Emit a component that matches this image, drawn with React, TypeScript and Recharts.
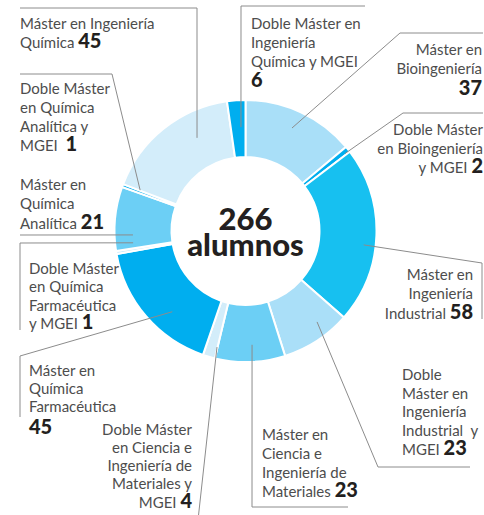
import { PieChart, Pie, Cell, Label } from "recharts";

// programmes, clockwise from 12 o'clock
const programs = [
  "Máster en Bioingeniería",
  "Doble Máster en Bioingeniería y MGEI",
  "Máster en Ingeniería Industrial",
  "Doble Máster en Ingeniería Industrial y MGEI",
  "Máster en Ciencia e Ingeniería de Materiales",
  "Doble Máster en Ciencia e Ingeniería de Materiales y MGEI",
  "Máster en Química Farmacéutica",
  "Doble Máster en Química Farmacéutica y MGEI",
  "Máster en Química Analítica",
  "Doble Máster en Química Analítica y MGEI",
  "Máster en Ingeniería Química",
  "Doble Máster en Ingeniería Química y MGEI",
];
const students = [37, 2, 58, 23, 23, 4, 45, 1, 21, 1, 45, 6];
const totalUnit = "alumnos";

const sliceColors = [
  "#a9dff8",
  "#00aeef",
  "#17c0f0",
  "#aadff8",
  "#6ccff5",
  "#d3edfa",
  "#00aeef",
  "#c4e8f9",
  "#6ccff5",
  "#00aeef",
  "#d3edfa",
  "#00aeef",
];

// label placement: text lines, baselines, leader line (start given in polar
// coords around the pie centre: degrees clockwise from top, radius)
type LabelSpot = {
  lines: string[];
  numOwnLine?: boolean;
  x: number;
  anchor: "start" | "end";
  ys: number[];
  from: [number, number];
  path: number[][];
};

const labelSpots: LabelSpot[] = [
  { lines: ["Máster en", "Bioingeniería"], numOwnLine: true, x: 482, anchor: "end", ys: [55, 73.5, 95], from: [24.3, 113], path: [[400, 33], [483, 33]] },
  { lines: ["Doble Máster", "en Bioingeniería", "y MGEI"], x: 483, anchor: "end", ys: [135, 154, 173], from: [52.1, 126], path: [[403, 113], [483, 113]] },
  { lines: ["Máster en", "Ingeniería", "Industrial"], x: 473, anchor: "end", ys: [280, 299, 319], from: [96.7, 119], path: [[482, 263], [482, 319]] },
  { lines: ["Doble", "Máster en", "Ingeniería", "Industrial  y", "MGEI"], x: 402, anchor: "start", ys: [380, 398.5, 417, 435.5, 454.5], from: [141.8, 115.7], path: [[378, 467], [470, 467]] },
  { lines: ["Máster en", "Ciencia e", "Ingeniería de", "Materiales"], x: 262, anchor: "start", ys: [440, 459, 478, 497], from: [176.7, 114], path: [[252, 507], [348, 507]] },
  { lines: ["Doble Máster", "en Ciencia e", "Ingeniería de", "Materiales y", "MGEI"], x: 192, anchor: "end", ys: [435, 453, 471, 489, 508], from: [193.8, 119.5], path: [[198, 520]] },
  { lines: ["Máster en", "Química", "Farmacéutica"], numOwnLine: true, x: 29, anchor: "start", ys: [375.5, 393.5, 411.5, 434], from: [222.2, 109], path: [[20, 356], [20, 417]] },
  { lines: ["Doble Máster", "en Química", "Farmacéutica", "y MGEI"], x: 29, anchor: "start", ys: [273.5, 292, 310.5, 329], from: [264, 113], path: [[20, 243], [20, 330]] },
  { lines: ["Máster en", "Química", "Analítica"], x: 20, anchor: "start", ys: [189.5, 209, 228.5], from: [268, 112.6], path: [[20, 235]] },
  { lines: ["Doble Máster", "en Química", "Analítica y", "MGEI "], x: 20, anchor: "start", ys: [94, 113, 132, 151], from: [291.2, 113], path: [[112, 74], [20, 74]] },
  { lines: ["Máster en Ingeniería", "Química"], x: 20, anchor: "start", ys: [29, 48], from: [332.5, 105], path: [[197, 8], [20, 8]] },
  { lines: ["Doble Máster en", "Ingeniería", "Química y MGEI"], numOwnLine: true, x: 251, anchor: "start", ys: [29, 48, 66.5, 87], from: [357.5, 104], path: [[241, 6], [365, 6]] },
];

const FONT = "Lato, 'Noto Sans', sans-serif";

function renderProgramLabel(props: any) {
  const { cx, cy, index } = props;
  const spot = labelSpots[index];
  const a = (spot.from[0] * Math.PI) / 180;
  const sx = cx + spot.from[1] * Math.sin(a);
  const sy = cy - spot.from[1] * Math.cos(a);
  const pts = [[sx, sy], ...spot.path].map((p) => p.join(",")).join(" ");
  const num = (
    <tspan fontSize={20} fontWeight={900} fill="#231f20">
      {students[index]}
    </tspan>
  );
  const rows = spot.numOwnLine ? [...spot.lines, ""] : spot.lines;
  return (
    <g key={`lbl-${index}`}>
      <polyline points={pts} fill="none" stroke="#8c8c8c" strokeWidth={1} />
      {rows.map((line, i) => {
        const last = i === rows.length - 1;
        return (
          <text
            key={i}
            x={spot.x}
            y={spot.ys[i]}
            textAnchor={spot.anchor}
            fontFamily={FONT}
            fontSize={15}
            fill="#4d4d4d"
            style={{ whiteSpace: "pre" }}
          >
            {last && !spot.numOwnLine ? line + " " : line}
            {last ? num : null}
          </text>
        );
      })}
    </g>
  );
}

const data = programs.map((name, i) => ({ name, value: students[i] }));
const total = students.reduce((s, v) => s + v, 0);

export default function App() {
  return (
    <div style={{ position: "absolute", left: 0, top: 0, width: 484, height: 515, background: "#fff" }}>
      <PieChart width={484} height={515} margin={{ top: 0, right: 0, bottom: 0, left: 0 }}>
        <Pie
          data={data}
          dataKey="value"
          nameKey="name"
          cx={245.5}
          cy={231}
          innerRadius={74}
          outerRadius={131}
          startAngle={90}
          endAngle={-270}
          stroke="#fff"
          strokeWidth={2}
          label={renderProgramLabel}
          labelLine={false}
          isAnimationActive={false}
        >
          {data.map((d, i) => (
            <Cell key={d.name} fill={sliceColors[i]} />
          ))}
          <Label
            position="center"
            content={(p: any) => {
              const vb = p.viewBox || {};
              const x = vb.cx ?? 245.5;
              const y = vb.cy ?? 231;
              return (
                <g>
                  <text x={x} y={y - 1} textAnchor="middle" fontFamily={FONT} fontSize={31} fontWeight={900} fill="#231f20">
                    {total}
                  </text>
                  <text x={x} y={y + 25} textAnchor="middle" fontFamily={FONT} fontSize={31} fontWeight={900} fill="#231f20">
                    {totalUnit}
                  </text>
                </g>
              );
            }}
          />
        </Pie>
      </PieChart>
    </div>
  );
}
